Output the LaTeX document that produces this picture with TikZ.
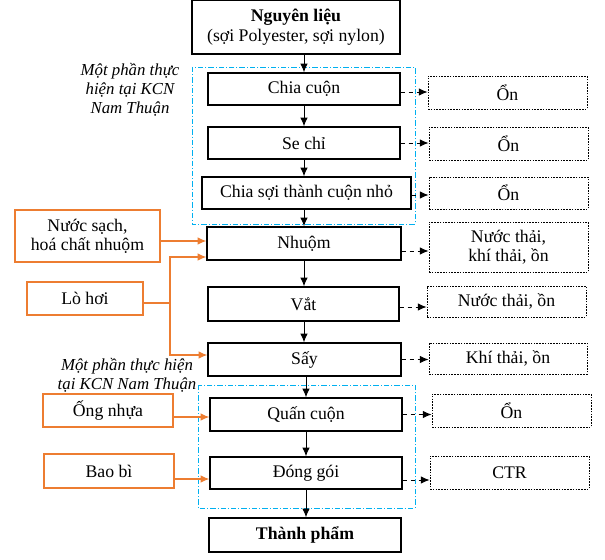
\documentclass[tikz,border=0pt]{standalone}
\usepackage{fontspec}
\setmainfont{Liberation Serif}
\usetikzlibrary{arrows.meta,calc}
\definecolor{borange}{RGB}{237,125,49}
\definecolor{bblue}{RGB}{0,176,240}
\begin{document}
\begin{tikzpicture}[x=0.75pt,y=-0.75pt,
  font=\fontsize{13.3}{14.5}\selectfont,
  sz/.style 2 args={minimum width={#1*0.75pt},minimum height={#2*0.75pt}},
  mainbox/.style={draw,line width=0.9pt,inner sep=1pt,align=center},
  outbox/.style={draw,line width=0.6pt,dash pattern=on 1.2pt off 0.9pt,inner sep=1pt,align=center},
  inbox/.style={draw=borange,line width=0.8pt,inner sep=1pt,align=center},
  flow/.style={-{Latex[length=6.5pt,width=5.5pt]},line width=0.7pt},
  waste/.style={-{Latex[length=6.5pt,width=5.5pt]},line width=0.7pt,dash pattern=on 3pt off 3pt},
  feed/.style={-{Latex[length=6.5pt,width=5.5pt]},draw=borange,line width=0.9pt},
  feedline/.style={draw=borange,line width=0.9pt},
  zone/.style={draw=bblue,line width=0.6pt,dash pattern=on 4pt off 1.5pt on 0.8pt off 1.5pt},
  note/.style={font=\fontsize{12.6}{14.2}\selectfont\itshape,align=center}]
\useasboundingbox (0,0) rectangle (605,559);

% zones
\draw[zone] (192,67) rectangle (415,224);
\draw[zone] (198,385) rectangle (415,508);
\node[note] (z1) at (130,90) {Một phần thực\\hiện tại KCN\\Nam Thuận};
\node[note] (z2) at (127,375) {Một phần thực hiện\\tại KCN Nam Thuận};

% main boxes
\node[mainbox,sz={208}{54}] (nl) at (296,27) {\textbf{Nguyên liệu}\\(sợi Polyester, sợi nylon)};
\node[mainbox,sz={192}{32}] (chia) at (304,89) {Chia cuộn};
\node[mainbox,sz={192}{32}] (se) at (304,143) {Se chỉ};
\node[mainbox,sz={209}{32}] (cs) at (306.5,193) {Chia sợi thành cuộn nhỏ};
\node[mainbox,sz={194}{33}] (nhuom) at (304,243.5) {Nhuộm};
\node[mainbox,sz={191}{34}] (vat) at (303.5,304) {Vắt};
\node[mainbox,sz={193}{33}] (say) at (304.5,359.5) {Sấy};
\node[mainbox,sz={192}{33}] (quan) at (306,414.5) {Quấn cuộn};
\node[mainbox,sz={192}{32}] (dong) at (306,473) {Đóng gói};
\node[mainbox,sz={192}{34}] (tp) at (305,535) {\textbf{Thành phẩm}};

% output boxes
\node[outbox,sz={159}{33}] (o1) at (507.5,92.5) {Ổn};
\node[outbox,sz={159}{33}] (o2) at (508.5,143.5) {Ổn};
\node[outbox,sz={159}{32}] (o3) at (508.5,193) {Ổn};
\node[outbox,sz={159}{50}] (o4) at (508.5,247) {Nước thải,\\khí thải, ồn};
\node[outbox,sz={159}{31}] (o5) at (506.5,301.5) {Nước thải, ồn};
\node[outbox,sz={158}{31}] (o6) at (508,358.5) {Khí thải, ồn};
\node[outbox,sz={159}{33}] (o7) at (511.5,410.5) {Ổn};
\node[outbox,sz={159}{33}] (o8) at (509.5,472.5) {CTR};

% input boxes
\node[inbox,sz={145}{52}] (nuoc) at (87.5,236) {Nước sạch,\\hoá chất nhuộm};
\node[inbox,sz={116}{33}] (lo) at (85,298.5) {Lò hơi};
\node[inbox,sz={130}{33}] (ong) at (108,410.5) {Ống nhựa};
\node[inbox,sz={130}{34}] (bao) at (109,471) {Bao bì};

% main flow
\draw[flow] (chia.north |- nl.south) -- (chia.north);
\draw[flow] (chia.south) -- (se.north -| chia.south);
\draw[flow] (se.south) -- (cs.north -| se.south);
\draw[flow] (se.south |- cs.south) -- (nhuom.north -| se.south);
\draw[flow] (nhuom.south) -- (vat.north -| nhuom.south);
\draw[flow] (nhuom.south |- vat.south) -- (say.north -| nhuom.south);
\draw[flow] (quan.north |- say.south) -- (quan.north);
\draw[flow] (quan.south) -- (dong.north -| quan.south);
\draw[flow] (dong.south) -- (tp.north -| dong.south);

% waste arrows
\coordinate (w1) at ($(chia.east)+(0,3)$);
\coordinate (w2) at (se.east);
\coordinate (w3) at ($(cs.east)+(0,2)$);
\coordinate (w4) at ($(nhuom.east)+(0,7.5)$);
\coordinate (w5) at ($(vat.east)+(0,3)$);
\coordinate (w6) at (say.east);
\coordinate (w7) at (quan.east);
\coordinate (w8) at ($(dong.east)+(0,7)$);
\draw[waste] (w1) -- (w1 -| o1.west);
\draw[waste] (w2) -- (w2 -| o2.west);
\draw[waste] (w3) -- (w3 -| o3.west);
\draw[waste] (w4) -- (w4 -| o4.west);
\draw[waste] (w5) -- (w5 -| o5.west);
\draw[waste] (w6) -- (w6 -| o6.west);
\draw[waste] (w7) -- (w7 -| o7.west);
\draw[waste] (w8) -- (w8 -| o8.west);

% input arrows
\coordinate (f1) at ($(nuoc.east)+(0,5)$);
\draw[feed] (f1) -- (f1 -| nhuom.west);
\coordinate (f2) at ($(lo.east)+(0,4.5)$);
\coordinate (j) at (170,303);
\coordinate (ja) at ($(nhuom.west)+(0,13.5)$);
\coordinate (jb) at ($(say.west)+(0,-4.5)$);
\draw[feedline] (f2) -- (j);
\draw[feed] (j) |- (ja);
\draw[feed] (j) |- (jb);
\coordinate (f3) at ($(ong.east)+(0,6.5)$);
\draw[feed] (f3) -- (f3 -| quan.west);
\coordinate (f4) at ($(bao.east)+(0,8)$);
\draw[feed] (f4) -- (f4 -| dong.west);
\end{tikzpicture}
\end{document}
